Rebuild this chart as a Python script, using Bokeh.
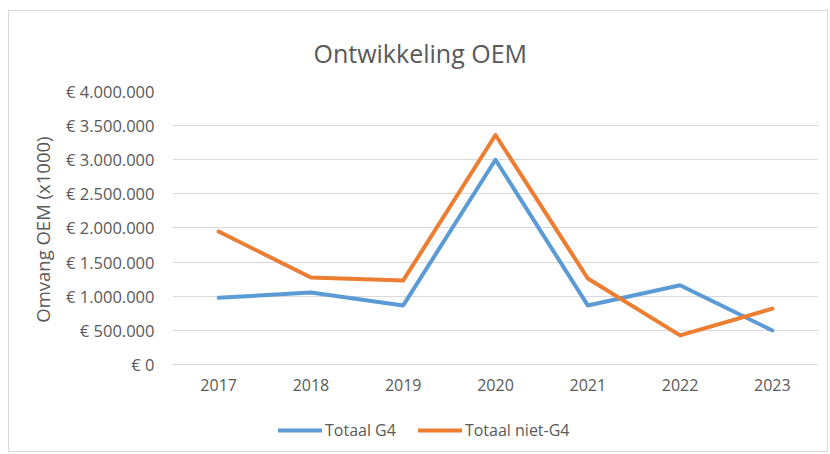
from bokeh.plotting import figure
from bokeh.models import Range1d, FactorRange, FixedTicker, Legend, LegendItem, Title
from bokeh.embed import file_html
from bokeh.resources import INLINE

years = ["2017", "2018", "2019", "2020", "2021", "2022", "2023"]
totaal_g4 = [977000, 1054000, 865000, 3000000, 865000, 1160000, 498000]
totaal_niet_g4 = [1948000, 1275000, 1232000, 3362000, 1260000, 426000, 817000]
y_ticks = [0, 500000, 1000000, 1500000, 2000000, 2500000, 3000000, 3500000, 4000000]
y_tick_labels = ["€ 0", "€ 500.000", "€ 1.000.000", "€ 1.500.000", "€ 2.000.000",
                 "€ 2.500.000", "€ 3.000.000", "€ 3.500.000", "€ 4.000.000"]

FONT = "Open Sans"
TXT = "#595959"
BLUE = "#5B9BD5"
ORANGE = "#ED7D31"

# layout (pixels): the frame extends below the value axis so the legend fits inside it
W, H = 820, 442
TOP, BOTTOM, LEFT, RIGHT = 76, 4, 163, 11
AXIS_PX = 276           # height of the 0 .. max band
frame_h = H - TOP - BOTTOM
y_max = y_ticks[-1]
y_min = -y_max * (frame_h - AXIS_PX) / AXIS_PX

p = figure(width=W, height=H, x_range=FactorRange(*years), y_range=Range1d(y_min, y_max),
           output_backend="svg", toolbar_location=None,
           min_border_left=LEFT, min_border_right=RIGHT, min_border_top=TOP, min_border_bottom=BOTTOM)
p.styles = {"border": "1px solid #d9d9d9", "position": "relative", "left": "8px", "top": "10px"}
p.outline_line_color = None
p.background_fill_color = "white"
p.border_fill_color = "white"

p.title.text = "Ontwikkeling OEM"
p.title.text_font = FONT
p.title.text_font_size = "25px"
p.title.text_font_style = "normal"
p.title.text_color = TXT
p.title.align = "left"
p.title.offset = 141
p.title.standoff = 44

l1 = p.line(years, totaal_g4, line_color=BLUE, line_width=4, line_join="round", line_cap="round")
l2 = p.line(years, totaal_niet_g4, line_color=ORANGE, line_width=4, line_join="round", line_cap="round")

p.xgrid.grid_line_color = None
p.ygrid.grid_line_color = "#d9d9d9"
p.ygrid.grid_line_width = 1
p.yaxis.ticker = FixedTicker(ticks=y_ticks)
p.ygrid.ticker = FixedTicker(ticks=y_ticks)
p.yaxis.major_label_overrides = {t: s for t, s in zip(y_ticks, y_tick_labels)}
p.yaxis.bounds = (0, y_max)
p.xaxis.fixed_location = 0

for ax in (p.xaxis[0], p.yaxis[0]):
    ax.axis_line_color = None
    ax.major_tick_line_color = None
    ax.minor_tick_line_color = None
    ax.major_label_text_font = FONT
    ax.major_label_text_color = TXT

p.yaxis.major_label_text_font_size = "16.5px"
p.xaxis.major_label_text_font_size = "16px"
p.yaxis.major_label_standoff = 12
p.xaxis.major_label_standoff = 9

# value-axis title, placed beside the 0 .. max band
ytitle = Title(text="Omvang OEM (x1000)", align="right", offset=45, standoff=18,
               text_font=FONT, text_font_size="18.5px", text_font_style="normal",
               text_color=TXT)
p.add_layout(ytitle, "left")

legend = Legend(items=[LegendItem(label="Totaal G4", renderers=[l1]),
                       LegendItem(label="Totaal niet-G4", renderers=[l2])],
                orientation="horizontal", location=(106, 8))
legend.border_line_color = None
legend.background_fill_alpha = 0
legend.padding = 0
legend.margin = 0
legend.spacing = 22
legend.glyph_width = 44
legend.glyph_height = 18
legend.label_standoff = 3
legend.label_text_font = FONT
legend.label_text_font_size = "16px"
legend.label_text_color = TXT
p.add_layout(legend, "center")

open("out.html", "w").write(file_html(p, INLINE))
